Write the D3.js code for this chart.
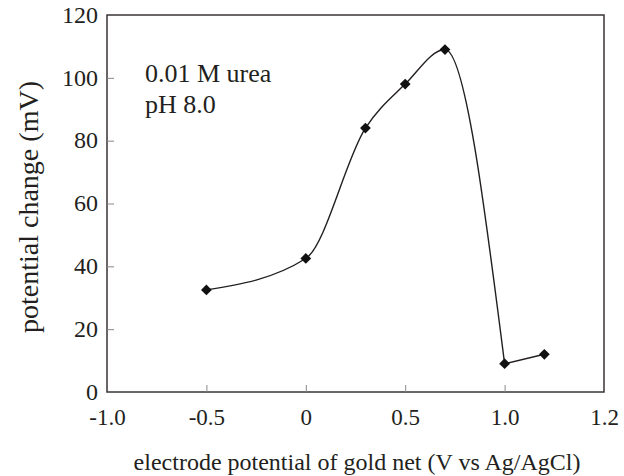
<!DOCTYPE html>
<html>
<head>
<meta charset="utf-8">
<script src="https://cdn.jsdelivr.net/npm/d3@7"></script>
<style>
  body { margin: 0; background: #fff; }
</style>
</head>
<body>
<div id="root"></div>
<script>
// potential (V vs Ag/AgCl) and response (mV)
const potentials = [-0.5, 0, 0.3, 0.5, 0.7, 1.0, 1.2];
const responses = [32.5, 42.5, 84, 98, 109, 9, 12];

const xTicks = [-1.0, -0.5, 0, 0.5, 1.0, 1.5];
// the original figure labels its last tick "1.2"
const xTickLabels = ["-1.0", "-0.5", "0", "0.5", "1.0", "1.2"];
const yTicks = [0, 20, 40, 60, 80, 100, 120];

const W = 624, H = 476;
const margin = { left: 107, top: 15, right: 20, bottom: 84 };
const width = W - margin.left - margin.right;
const height = H - margin.top - margin.bottom;
const ink = "#231f20";
const serif = '"Liberation Serif"';

const svg = d3.select("#root")
  .append("svg")
    .attr("width", W)
    .attr("height", H);

const g = svg.append("g")
  .attr("transform", `translate(${margin.left},${margin.top})`);

const x = d3.scaleLinear().domain([-1.0, 1.5]).range([0, width]);
const y = d3.scaleLinear().domain([0, 120]).range([height, 0]);

// frame
g.append("rect")
  .attr("width", width)
  .attr("height", height)
  .attr("fill", "none")
  .attr("stroke", "#3a3536")
  .attr("stroke-width", 1.5);

// axes, ticks pointing inward
const xAxis = g.append("g")
  .attr("transform", `translate(0,${height})`)
  .call(d3.axisBottom(x)
    .tickValues(xTicks)
    .tickSizeInner(-7)
    .tickSizeOuter(0)
    .tickFormat((d, i) => xTickLabels[i]));

const yAxis = g.append("g")
  .call(d3.axisLeft(y)
    .tickValues(yTicks)
    .tickSizeInner(-7)
    .tickSizeOuter(0)
    .tickPadding(9));

[xAxis, yAxis].forEach(a => {
  a.attr("font-family", serif);
  a.select(".domain").remove();
  a.selectAll("line").attr("stroke", "#888");
  a.selectAll("text").attr("fill", ink);
});
xAxis.attr("font-size", 23);
yAxis.attr("font-size", 24);
xAxis.selectAll(".tick")
  .filter(d => d === -1.0 || d === 1.5)
  .select("line").remove();
yAxis.selectAll(".tick")
  .filter(d => d === 0 || d === 120)
  .select("line").remove();
xAxis.selectAll("text").attr("y", 33).attr("dy", null);
yAxis.selectAll("text").attr("dy", "0.3em");

// fitted curve through the points up to 1.0 V, straight to 1.2 V
const pts = potentials.map((p, i) => [p, responses[i]]);
const curve = d3.line()
  .x(d => x(d[0]))
  .y(d => y(d[1]))
  .curve(d3.curveMonotoneX);
const straight = d3.line()
  .x(d => x(d[0]))
  .y(d => y(d[1]));

g.append("path")
  .attr("d", curve(pts.slice(0, 6)))
  .attr("fill", "none")
  .attr("stroke", ink)
  .attr("stroke-width", 1.4);
g.append("path")
  .attr("d", straight(pts.slice(5)))
  .attr("fill", "none")
  .attr("stroke", ink)
  .attr("stroke-width", 1.4);

// diamond markers
g.selectAll("path.pt")
  .data(pts)
  .enter()
  .append("path")
    .attr("class", "pt")
    .attr("d", d3.symbol(d3.symbolSquare, 58)())
    .attr("transform", d => `translate(${x(d[0])},${y(d[1])})rotate(45)`)
    .attr("fill", "#111");

// annotation
const note = g.append("g")
  .attr("font-family", serif)
  .attr("font-size", 26)
  .attr("fill", ink);
note.append("text")
  .attr("x", 145 - margin.left)
  .attr("y", 82 - margin.top)
  .text("0.01 M urea");
note.append("text")
  .attr("x", 145 - margin.left)
  .attr("y", 113 - margin.top)
  .text("pH 8.0");

// axis titles
svg.append("text")
  .attr("transform", `translate(357,470)`)
  .attr("text-anchor", "middle")
  .attr("font-family", serif)
  .attr("font-size", 24)
  .attr("fill", ink)
  .text("electrode potential of gold net (V vs Ag/AgCl)");
svg.append("text")
  .attr("transform", `translate(38,207)rotate(-90)`)
  .attr("text-anchor", "middle")
  .attr("font-family", serif)
  .attr("font-size", 28)
  .attr("fill", ink)
  .text("potential change (mV)");
</script>
</body>
</html>
